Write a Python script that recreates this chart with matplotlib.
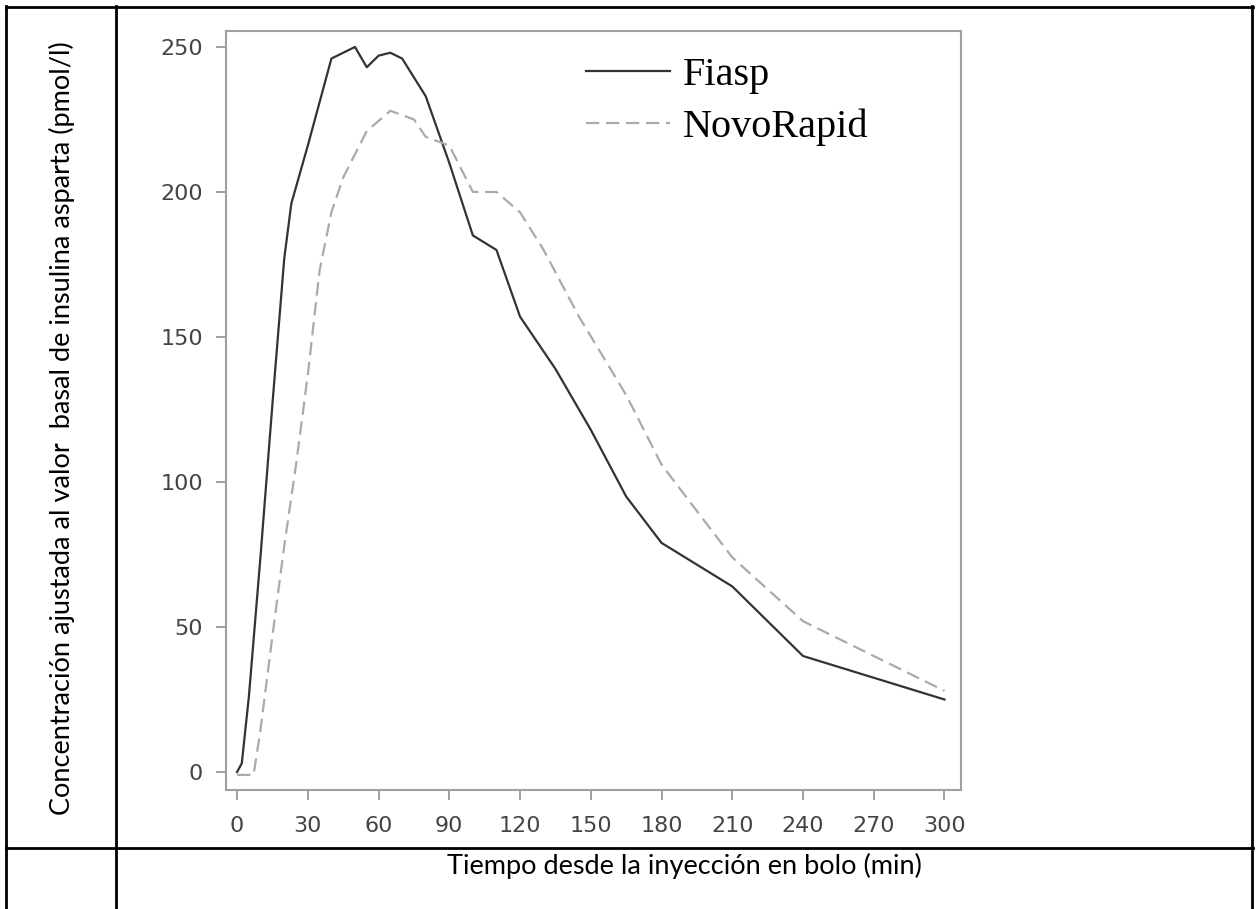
import matplotlib
matplotlib.use("Agg")
import matplotlib.pyplot as plt
from matplotlib.lines import Line2D

# time after bolus (min) and baseline-adjusted insulin aspart (pmol/l)
fiasp_t = [0, 2, 5, 10, 15, 20, 23, 30, 35, 40, 50, 55, 60, 65, 70, 80, 90, 100,
           110, 120, 135, 150, 165, 180, 210, 240, 300]
fiasp_c = [0, 3, 26, 75, 127, 177, 196, 216, 231, 246, 250, 243, 247, 248, 246,
           233, 210, 185, 180, 157, 139, 118, 95, 79, 64, 40, 25]

novo_t = [0, 7, 10, 15, 20, 25, 30, 35, 40, 45, 55, 65, 75, 80, 90, 100, 110,
          120, 130, 145, 165, 180, 210, 240, 300]
novo_c = [-1, -1, 15, 47, 78, 106, 137, 173, 193, 205, 221, 228, 225, 219, 216,
          200, 200, 193, 180, 157, 130, 106, 74, 52, 28]

xticks = [0, 30, 60, 90, 120, 150, 180, 210, 240, 270, 300]
yticks = [0, 50, 100, 150, 200, 250]

W, H = 1258, 909
fig = plt.figure(figsize=(W / 100, H / 100), dpi=100)

ax = fig.add_axes([226 / W, 1 - 790 / H, (961 - 226) / W, (790 - 31) / H])
ax.plot(fiasp_t, fiasp_c, color="#333333", lw=1.6, label="Fiasp")
ax.plot(novo_t, novo_c, color="#aaaaaa", lw=1.6, dashes=(6, 3), label="NovoRapid")

ax.set_xlim(-4.7, 307)
ax.set_ylim(-6.2, 255.5)
ax.set_xticks(xticks)
ax.set_yticks(yticks)
for s in ax.spines.values():
    s.set_color("#a0a0a0")
    s.set_linewidth(1.5)
ax.tick_params(direction="out", length=7.5, width=1.2, color="#909090",
               labelsize=16, labelcolor="#444444")
ax.tick_params(axis="x", pad=11)
ax.tick_params(axis="y", pad=9)

leg = ax.legend(loc="upper left", bbox_to_anchor=(0.44, 1.014), frameon=False,
                handlelength=2.1, handletextpad=0.32, labelspacing=0.37,
                prop={"family": "Liberation Serif", "size": 29})

# table frame around the picture
def hline(y, x0, x1):
    fig.add_artist(Line2D([x0 / W, x1 / W], [1 - y / H, 1 - y / H],
                          color="black", lw=2))

def vline(x, y0, y1):
    fig.add_artist(Line2D([x / W, x / W], [1 - y0 / H, 1 - y1 / H],
                          color="black", lw=2))

hline(6.5, 6, 1253)
hline(848, 6, 1253)
vline(6.5, 6, 909)
vline(116, 6, 909)
vline(1252, 6, 909)

fig.text(684 / W, 1 - 866 / H, "Tiempo desde la inyección en bolo (min)",
         ha="center", va="center", family="Lato", fontsize=19.5)
fig.text(62 / W, 1 - 428 / H,
         "Concentración ajustada al valor  basal de insulina asparta (pmol/l)",
         ha="center", va="center", rotation=90, family="Lato", fontsize=19.5)

fig.savefig("out.png", dpi=100)
